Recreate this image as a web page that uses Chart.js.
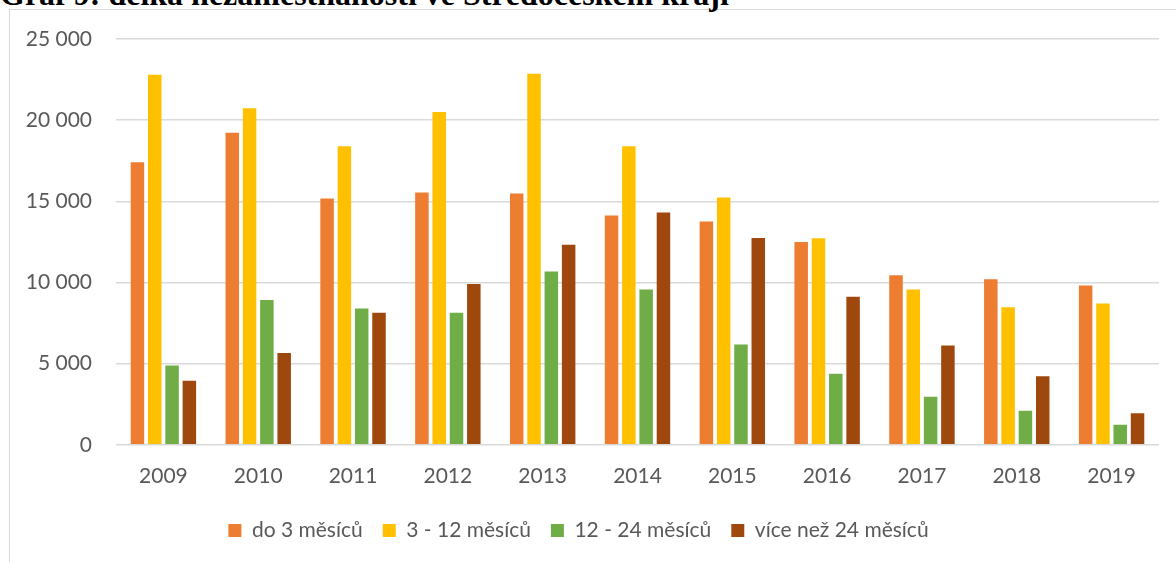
<!DOCTYPE html>
<html>
<head>
<meta charset="utf-8">
<script src="https://cdn.jsdelivr.net/npm/chart.js"></script>
<style>
  body { margin: 0; background: #fff; overflow: hidden; width: 1176px; height: 562px; position: relative; }
  #title { position: absolute; left: 0; top: -22px; font: bold 32px "Liberation Serif"; line-height: 1; white-space: nowrap; color: #000; }
  #frame { position: absolute; left: 9px; top: 9px; width: 1200px; height: 600px; border-left: 1px solid #d9d9d9; border-top: 1px solid #d9d9d9; }
  #wrap { position: absolute; left: -2px; top: 10px; width: 1178px; height: 552px; }
</style>
</head>
<body>
<div id="frame"></div>
<div id="title">Graf 9: délka nezaměstnanosti ve Středočeském kraji</div>
<div id="wrap"><canvas id="chart"></canvas></div>
<script>
// data
const years = ["2009", "2010", "2011", "2012", "2013", "2014", "2015", "2016", "2017", "2018", "2019"];
const do3 = [17400, 19230, 15170, 15540, 15480, 14130, 13760, 12500, 10450, 10200, 9820];
const m3to12 = [22800, 20730, 18390, 20510, 22860, 18390, 15230, 12720, 9570, 8470, 8710];
const m12to24 = [4880, 8920, 8390, 8140, 10670, 9570, 6180, 4370, 2960, 2100, 1230];
const over24 = [3940, 5660, 8140, 9900, 12330, 14310, 12740, 9120, 6110, 4230, 1940];
const seriesNames = ["do 3 měsíců", "3 - 12 měsíců", "12 - 24 měsíců", "více než 24 měsíců"];
const colors = ["#ED7D31", "#FFC000", "#70AD47", "#9E480E"];

const tickFont = { family: "Lato", size: 21 };
const grey = "#595959";

const ctx = document.getElementById("chart").getContext("2d");
const chart = new Chart(ctx, {
    type: "bar",
    data: {
        labels: years,
        datasets: [do3, m3to12, m12to24, over24].map((d, i) => ({
            label: seriesNames[i],
            data: d,
            backgroundColor: colors[i],
            categoryPercentage: 0.73,
            barPercentage: 0.78
        }))
    },
    options: {
        responsive: true,
        maintainAspectRatio: false,
        animation: false,
        layout: { padding: { left: 0, right: 17, top: 29, bottom: 11 } },
        scales: {
            x: {
                grid: { display: false },
                border: { display: false },
                ticks: { font: tickFont, color: grey, padding: 11 }
            },
            y: {
                min: 0,
                max: 25000,
                grid: { color: "#d9d9d9", lineWidth: 1.5, drawTicks: false },
                border: { display: false },
                ticks: {
                    stepSize: 5000,
                    font: tickFont,
                    color: grey,
                    padding: 24,
                    callback: v => String(v).replace(/\B(?=(\d{3})+(?!\d))/g, " ")
                },
                afterFit: s => { s.width = 118; s.paddingTop = 0; }
            }
        },
        plugins: {
            legend: {
                position: "bottom",
                labels: { boxWidth: 13, boxHeight: 13, font: tickFont, color: grey, padding: 20 }
            },
            tooltip: { enabled: false }
        }
    }
});
</script>
</body>
</html>
